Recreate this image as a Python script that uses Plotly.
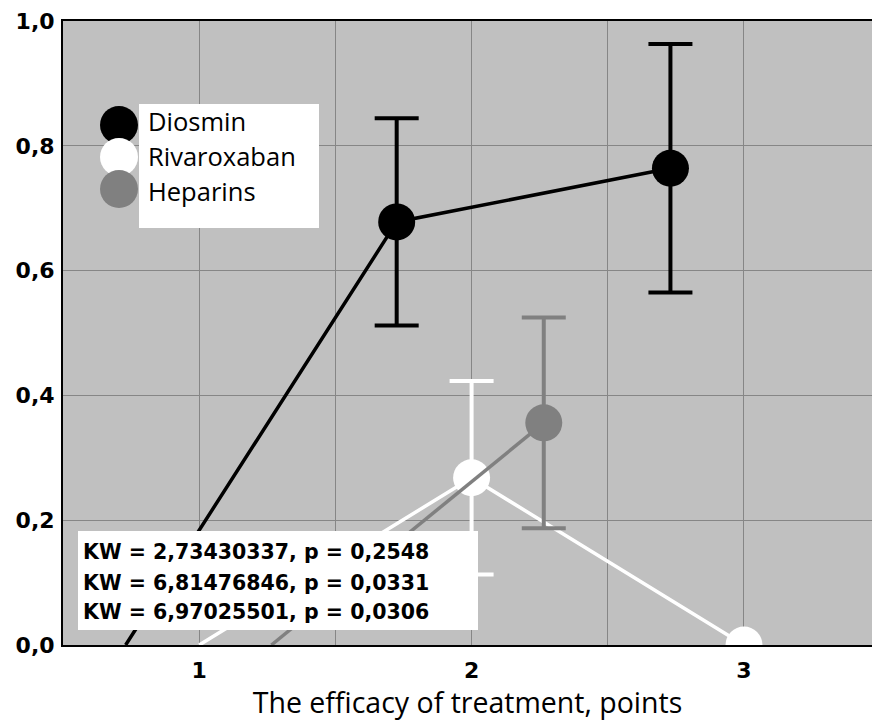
import plotly.graph_objects as go

# ---------------- data ----------------
categories = [1, 2, 3]
series_names = ["Diosmin", "Rivaroxaban", "Heparins"]

diosmin_x = [0.73, 1.725, 2.73]
diosmin_mean = [0.0, 0.678, 0.764]
diosmin_err = [None, 0.166, 0.199]

rivaroxaban_x = [1.0, 2.0, 3.0]
rivaroxaban_mean = [0.0, 0.268, 0.0]
rivaroxaban_err = [None, 0.155, None]

heparins_x = [1.265, 2.265]
heparins_mean = [0.0, 0.356]
heparins_err = [None, 0.169]

kw_lines = [
    "KW = 2,73430337, p = 0,2548",
    "KW = 6,81476846, p = 0,0331",
    "KW = 6,97025501, p = 0,0306",
]

y_ticks = [0.0, 0.2, 0.4, 0.6, 0.8, 1.0]
x_grid = [0.5, 1, 1.5, 2, 2.5, 3, 3.5]
x_title = "The efficacy of treatment, points"

# ---------------- style ----------------
colors = {"Diosmin": "#000000", "Rivaroxaban": "#ffffff", "Heparins": "#808080"}
MS = 37
PL, PR, PT, PB = 63, 872, 21, 645


def px_x(px):
    return (px - PL) / (PR - PL)


def px_y(py):
    return (PB - py) / (PB - PT)


fig = go.Figure()

series = [
    ("Rivaroxaban", rivaroxaban_x, rivaroxaban_mean, rivaroxaban_err),
    ("Heparins", heparins_x, heparins_mean, heparins_err),
    ("Diosmin", diosmin_x, diosmin_mean, diosmin_err),
]

for name, xs, ys, errs in series:
    col = colors[name]
    ex = [x for x, e in zip(xs, errs) if e is not None]
    ey = [y for y, e in zip(ys, errs) if e is not None]
    ee = [e for e in errs if e is not None]
    # error bars
    fig.add_trace(go.Scatter(
        x=ex, y=ey, mode="markers",
        marker=dict(size=MS, color=col, opacity=0),
        error_y=dict(type="data", array=ee, symmetric=True, color=col,
                     thickness=4, width=22),
        hoverinfo="skip", showlegend=False,
    ))
    # line + markers (first point lies on the axis, marker not drawn)
    op = [0] + [1] * (len(xs) - 1)
    fig.add_trace(go.Scatter(
        x=xs, y=ys, mode="lines+markers", name=name,
        line=dict(color=col, width=3.5),
        marker=dict(size=MS, color=col, opacity=op, line=dict(width=0)),
        showlegend=False,
    ))

# manual legend glyphs on an overlay axis (0..1 over the plot area)
leg_y = [px_y(125), px_y(157), px_y(189)]
fig.add_trace(go.Scatter(
    x=[px_x(119)] * 3, y=leg_y, mode="markers",
    marker=dict(size=38, color=[colors[n] for n in series_names], line=dict(width=0)),
    xaxis="x2", yaxis="y2", cliponaxis=False, hoverinfo="skip", showlegend=False,
))

shapes = [
    dict(type="rect", xref="paper", yref="paper", layer="above",
         x0=px_x(139), x1=px_x(319), y0=px_y(228), y1=px_y(104),
         fillcolor="white", line=dict(width=0)),
    dict(type="rect", xref="paper", yref="paper", layer="above",
         x0=px_x(78), x1=px_x(478), y0=px_y(630), y1=px_y(531),
         fillcolor="white", line=dict(width=0)),
]

annotations = []
for name, py in zip(series_names, [121, 156, 191]):
    annotations.append(dict(
        text=name, xref="paper", yref="paper", x=px_x(146), y=px_y(py),
        xanchor="left", yanchor="middle", showarrow=False,
        font=dict(family="Open Sans", size=25.5, color="black"),
    ))
for line, py in zip(kw_lines, [552, 583, 612]):
    annotations.append(dict(
        text=line, xref="paper", yref="paper", x=px_x(81), y=px_y(py),
        xanchor="left", yanchor="middle", showarrow=False,
        font=dict(family="DejaVu Sans", size=20.5, color="black", weight="bold"),
    ))

fig.update_layout(
    width=872, height=725,
    margin=dict(l=PL, r=0, t=PT, b=725 - PB, pad=0),
    paper_bgcolor="white", plot_bgcolor="#c0c0c0",
    separators=",.",
    showlegend=False,
    shapes=shapes, annotations=annotations,
    xaxis=dict(
        range=[0.5, 3.47], tickmode="array", tickvals=x_grid,
        ticktext=[str(v) if v in categories else "" for v in x_grid],
        showgrid=True, gridcolor="#868686", gridwidth=1, zeroline=False,
        showline=True, linecolor="black", linewidth=2, mirror=True,
        ticks="", ticklabelstandoff=5,
        tickfont=dict(family="DejaVu Sans", size=22, color="black", weight="bold"),
        title=dict(text=x_title, standoff=9,
                   font=dict(family="Open Sans", size=28.5, color="black")),
    ),
    yaxis=dict(
        range=[0, 1], tickmode="array", tickvals=y_ticks, tickformat=".1f",
        showgrid=True, gridcolor="#868686", gridwidth=1, zeroline=False,
        showline=True, linecolor="black", linewidth=2, mirror=False,
        ticks="", ticklabelstandoff=2,
        tickfont=dict(family="DejaVu Sans", size=22, color="black", weight="bold"),
    ),
    xaxis2=dict(overlaying="x", range=[0, 1], visible=False),
    yaxis2=dict(overlaying="y", range=[0, 1], visible=False),
)

fig.write_html("out.html")
